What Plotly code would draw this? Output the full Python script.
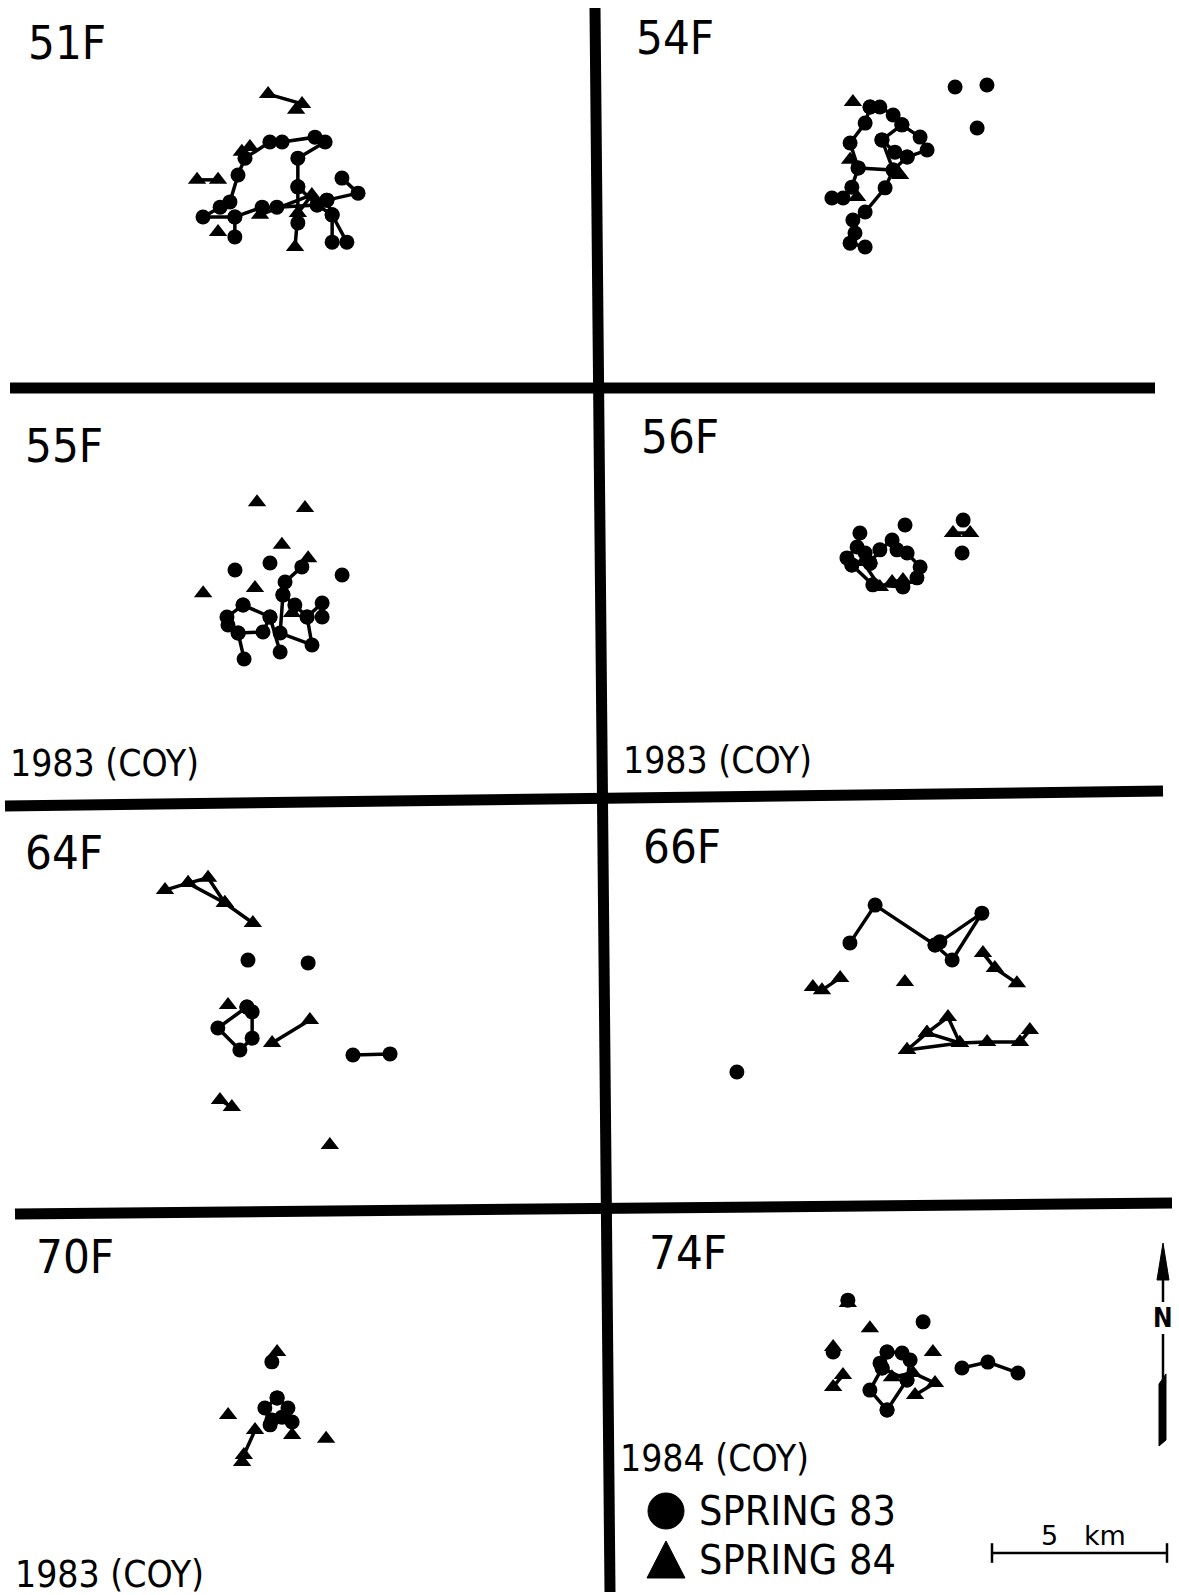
import plotly.graph_objects as go

W, H = 1179, 1595
PX_PER_KM = 35.0

# ---------------- DATA (km east / km north of a local reference point in each panel) -------------
PANELS = ["51F", "54F", "55F", "56F", "64F", "66F", "70F", "74F"]
SUBLABELS = {"55F": "1983 (COY)", "56F": "1983 (COY)", "70F": "1983 (COY)", "74F": "1984 (COY)"}
SERIES = ["SPRING 83", "SPRING 84"]
SCALE_BAR_KM = 5

F51_S83_X = [-1.29, -1.29, -2.20, -1.71, -1.43, -1.20, -1.00, -0.29, 0.06, 1.00, 1.29, 0.51, 0.51, 1.06, 1.49, 1.91, None,
             -1.29, -0.51, -0.09, 1.06, 1.34, None,
             1.77, 2.23, 1.34, 1.49, 1.49, None,
             0.51, 0.51]
F51_S83_Y = [-1.34, -0.77, -0.77, -0.49, -0.34, 0.43, 0.91, 1.37, 1.37, 1.51, 1.37, 0.91, 0.09, -0.43, -0.71, -1.49, None,
             -0.77, -0.49, -0.49, -0.43, -0.29, None,
             0.34, -0.09, -0.29, -0.71, -1.49, None,
             -0.94, 0.09]
F51_S84_X = [-0.34, 0.63, 0.46, None, -2.37, -1.77, None, -1.09, -0.86, None, -1.77, None, -0.57, 0.91, 0.51, 0.43]
F51_S84_Y = [2.74, 2.46, 2.29, None, 0.29, 0.29, None, 1.09, 1.23, None, -1.20, None, -0.71, -0.14, -0.66, -1.63]

F54_S83_X = [-0.57, -0.29, 0.09, 0.34, 0.86, 1.06, 0.49, 0.09, -0.14, -0.71, -1.06, -1.00, -1.14, -0.71, None,
             -0.57, -0.71, -1.14, -0.91, -1.09, -1.34, -1.66, None,
             0.34, -0.23, 0.14, 0.49, None,
             -0.23, 0.09, -0.91, None,
             1.86, None, 2.77, None, 2.49]
F54_S83_Y = [1.80, 1.80, 1.57, 1.29, 0.94, 0.57, 0.37, 0.00, -0.51, -1.20, -1.43, -1.80, -2.09, -2.20, None,
             1.80, 1.34, 0.77, 0.06, -0.49, -0.80, -0.80, None,
             1.29, 0.86, 0.51, 0.37, None,
             0.86, 0.00, 0.06, None,
             2.37, None, 2.43, None, 1.20]
F54_S84_X = [-1.06, None, -1.14, None, 0.29, None, -0.94]
F54_S84_Y = [1.94, None, 0.29, None, -0.14, None, -0.77]

F55_S83_X = [0.91, 0.43, 0.37, 0.29, 1.20, 1.06, 1.49, 1.49, None,
             -0.77, -1.23, -1.20, -0.91, -0.20, 0.00, -0.77, None,
             0.37, 0.71, 1.06, None,
             0.00, 0.29, None,
             -0.91, -0.74, None,
             -1.00, None, 0.00, None, 2.06]
F55_S83_Y = [0.66, 0.23, -0.14, -1.23, -1.57, -0.77, -0.37, -0.77, None,
             -0.43, -0.77, -1.00, -1.23, -1.20, -0.77, -0.43, None,
             -0.14, -0.43, -0.77, None,
             -0.77, -1.77, None,
             -1.23, -1.97, None,
             0.57, None, 0.77, None, 0.43]
F55_S84_X = [-0.37, None, 1.00, None, 0.34, None, -1.91, None, 1.09, None, -0.43, None, 0.63]
F55_S84_Y = [2.51, None, 2.34, None, 1.29, None, -0.09, None, 0.91, None, 0.06, None, -0.66]

F56_S83_X = [-0.86, -0.94, -1.23, -1.09, -0.57, -0.29, 0.06, 0.20, 0.49, 0.86, 0.77, 0.37, -0.49, -1.09, None,
             -0.71, -0.57, None, 0.43, None, 2.09, None, 2.06]
F56_S83_Y = [0.77, 0.37, 0.06, -0.14, -0.09, 0.29, 0.57, 0.29, 0.20, -0.20, -0.51, -0.77, -0.71, -0.14, None,
             0.20, -0.09, None, 1.00, None, 1.14, None, 0.20]
F56_S84_X = [-0.77, -0.29, 0.06, 0.37, None, 1.80, 2.29]
F56_S84_Y = [-0.06, -0.77, -0.63, -0.57, None, 0.77, 0.77]

F64_S83_X = [-0.63, None, 1.09, None, -0.66, -1.49, -0.86, -0.51, -0.51, -0.66, None, 2.37, 3.43]
F64_S83_Y = [1.14, None, 1.06, None, -0.20, -0.80, -1.43, -1.09, -0.34, -0.20, None, -1.57, -1.54]
F64_S84_X = [-3.00, -2.34, -1.29, -0.49, None, -2.34, -1.77, -1.29, None, -1.20, None, 1.14, 0.06, None,
             -1.43, -1.09, None, 1.71]
F64_S84_Y = [3.14, 3.34, 2.77, 2.20, None, 3.34, 3.49, 2.77, None, -0.14, None, -0.57, -1.23, None,
             -2.86, -3.06, None, -4.14]

F66_S83_X = [-1.43, -0.71, 1.00, 1.14, 2.34, 1.49, 1.00, None, -4.66]
F66_S83_Y = [1.06, 2.14, 1.00, 1.09, 1.91, 0.57, 1.00, None, -2.63]
F66_S84_X = [-2.49, -2.23, -1.71, None, 0.14, None, 2.37, 2.71, 3.34, None,
             0.20, 0.77, 1.37, 1.71, 0.77, None, 0.20, 1.71, 2.49, 3.43, 3.71]
F66_S84_Y = [-0.20, -0.29, 0.06, None, -0.06, None, 0.77, 0.34, -0.09, None,
             -2.00, -1.51, -1.06, -1.80, -1.51, None, -2.00, -1.80, -1.77, -1.77, -1.43]

F70_S83_X = [0.06, -0.29, -0.14, 0.20, 0.49, 0.37, 0.06, None, -0.09, None, -0.09]
F70_S83_Y = [0.06, -0.23, -0.71, -0.49, -0.63, -0.23, 0.06, None, -0.57, None, 1.09]
F70_S84_X = [0.06, None, -1.34, None, 0.49, None, 1.46, None, -0.57, -0.89, -0.94]
F70_S84_Y = [1.37, None, -0.43, None, -1.00, None, -1.11, None, -0.86, -1.57, -1.77]

F74_S83_X = [-0.37, -0.57, -0.51, -0.86, -0.37, None, -0.37, 0.06, 0.29, 0.20, -0.37, None, -0.51, 0.20, None,
             1.77, 2.51, 3.37, None, -1.49, None, 0.66, None, -1.91]
F74_S83_Y = [0.23, -0.09, -0.23, -0.86, -1.43, None, 0.23, 0.20, 0.00, -0.57, -1.43, None, -0.23, -0.57, None,
             -0.23, -0.06, -0.37, None, 1.71, None, 1.09, None, 0.23]
F74_S84_X = [-1.49, None, -0.86, None, 0.94, None, -1.91, None, -1.63, -1.91, None, -0.23, 0.37, 1.00, 0.43]
F74_S84_Y = [1.63, None, 0.91, None, 0.23, None, 0.37, None, -0.43, -0.77, None, -0.49, -0.37, -0.66, -1.00]

DATA = {
    "51F": (F51_S83_X, F51_S83_Y, F51_S84_X, F51_S84_Y),
    "54F": (F54_S83_X, F54_S83_Y, F54_S84_X, F54_S84_Y),
    "55F": (F55_S83_X, F55_S83_Y, F55_S84_X, F55_S84_Y),
    "56F": (F56_S83_X, F56_S83_Y, F56_S84_X, F56_S84_Y),
    "64F": (F64_S83_X, F64_S83_Y, F64_S84_X, F64_S84_Y),
    "66F": (F66_S83_X, F66_S83_Y, F66_S84_X, F66_S84_Y),
    "70F": (F70_S83_X, F70_S83_Y, F70_S84_X, F70_S84_Y),
    "74F": (F74_S83_X, F74_S83_Y, F74_S84_X, F74_S84_Y),
}

# ---------------- LAYOUT (pixels on the page) ----------------
COLS = [(0, 600), (600, 1179)]
ROWS = [(0, 395), (395, 800), (800, 1208), (1208, 1595)]
ORIGINS = {"51F": (280, 190), "54F": (890, 170), "55F": (270, 590), "56F": (890, 560),
           "64F": (270, 1000), "66F": (900, 980), "70F": (275, 1400), "74F": (900, 1360)}
LABEL_POS = {"51F": (26, 43), "54F": (634, 38), "55F": (23, 445), "56F": (639, 437),
             "64F": (23, 853), "66F": (641, 846), "70F": (34, 1256), "74F": (647, 1252)}
SUBLABEL_POS = {"55F": (8, 763), "56F": (621, 760), "70F": (13, 1574), "74F": (618, 1458)}

FONT = "DejaVu Sans Condensed, Liberation Sans Narrow, Liberation Sans, sans-serif"


def px(x):
    return x / W


def py(y):
    return 1 - y / H


fig = go.Figure()
layout_axes = {}
for i, name in enumerate(PANELS):
    col = i % 2
    row = i // 2
    L, R = COLS[col]
    T, B = ROWS[row]
    cx, cy = ORIGINS[name]
    sfx = "" if i == 0 else str(i + 1)
    layout_axes["xaxis" + sfx] = dict(domain=[px(L), px(R)], range=[(L - cx) / PX_PER_KM, (R - cx) / PX_PER_KM],
                                      visible=False, fixedrange=True, anchor="y" + sfx)
    layout_axes["yaxis" + sfx] = dict(domain=[py(B), py(T)], range=[(cy - B) / PX_PER_KM, (cy - T) / PX_PER_KM],
                                      visible=False, fixedrange=True, anchor="x" + sfx)
    x83, y83, x84, y84 = DATA[name]
    fig.add_trace(go.Scatter(x=x83, y=y83, mode="lines+markers", name=SERIES[0], showlegend=False,
                             xaxis="x" + sfx, yaxis="y" + sfx, cliponaxis=False,
                             line=dict(color="black", width=3.5),
                             marker=dict(symbol="circle", size=15, color="black")))
    fig.add_trace(go.Scatter(x=x84, y=y84, mode="lines+markers", name=SERIES[1], showlegend=False,
                             xaxis="x" + sfx, yaxis="y" + sfx, cliponaxis=False,
                             line=dict(color="black", width=3.5),
                             marker=dict(symbol="triangle-up", size=16, color="black")))

# scale bar drawn in the 74F panel's km axes
sb_x0 = (992 - ORIGINS["74F"][0]) / PX_PER_KM
sb_y0 = (ORIGINS["74F"][1] - 1553) / PX_PER_KM
fig.add_trace(go.Scatter(x=[sb_x0, sb_x0 + SCALE_BAR_KM], y=[sb_y0, sb_y0], mode="lines+markers",
                         showlegend=False, xaxis="x8", yaxis="y8", cliponaxis=False,
                         line=dict(color="black", width=2.5),
                         marker=dict(symbol="line-ns", size=14, line=dict(color="black", width=2.5))))

annotations = []
for name in PANELS:
    x, y = LABEL_POS[name]
    annotations.append(dict(text=name, x=px(x), y=py(y), xref="paper", yref="paper", xanchor="left",
                            yanchor="middle", showarrow=False, font=dict(family=FONT, size=47, color="black")))
for name, txt in SUBLABELS.items():
    x, y = SUBLABEL_POS[name]
    annotations.append(dict(text=txt, x=px(x), y=py(y), xref="paper", yref="paper", xanchor="left",
                            yanchor="middle", showarrow=False, font=dict(family=FONT, size=37, color="black")))
annotations.append(dict(text=SERIES[0], x=px(697), y=py(1511), xref="paper", yref="paper", xanchor="left",
                        yanchor="middle", showarrow=False, font=dict(family=FONT, size=41, color="black")))
annotations.append(dict(text=SERIES[1], x=px(697), y=py(1560), xref="paper", yref="paper", xanchor="left",
                        yanchor="middle", showarrow=False, font=dict(family=FONT, size=41, color="black")))
annotations.append(dict(text="5&nbsp;&nbsp;&nbsp;km", x=px(1083), y=py(1535), xref="paper", yref="paper",
                        xanchor="center", yanchor="middle", showarrow=False,
                        font=dict(family="DejaVu Sans, sans-serif", size=27, color="black")))
annotations.append(dict(text="<b>N</b>", x=px(1163), y=py(1318), xref="paper", yref="paper",
                        xanchor="center", yanchor="middle", showarrow=False,
                        font=dict(family="DejaVu Sans Condensed, DejaVu Sans, sans-serif", size=26, color="black")))


def line_shape(x0, y0, x1, y1, w):
    return dict(type="line", xref="paper", yref="paper", x0=px(x0), y0=py(y0), x1=px(x1), y1=py(y1),
                line=dict(color="black", width=w))


def path_shape(pts):
    d = "M " + " L ".join(f"{px(a):.5f},{py(b):.5f}" for a, b in pts) + " Z"
    return dict(type="path", xref="paper", yref="paper", path=d, fillcolor="black",
                line=dict(color="black", width=1))


shapes = [
    line_shape(595, 8, 610, 1592, 11),
    line_shape(10, 388, 1155, 388, 11),
    line_shape(5, 806, 1163, 791, 11),
    line_shape(15, 1214, 1172, 1203, 11),
    path_shape([(1163, 1243), (1157, 1280), (1169, 1280)]),
    line_shape(1163, 1275, 1163, 1302, 2.5),
    line_shape(1163, 1334, 1163, 1382, 2.5),
    path_shape([(1159, 1384), (1166, 1374), (1166, 1440), (1159, 1446)]),
    dict(type="circle", xref="paper", yref="paper", x0=px(648), x1=px(684), y0=py(1529), y1=py(1493),
         fillcolor="black", line=dict(color="black", width=1)),
    path_shape([(666, 1541), (647, 1578), (685, 1578)]),
]

fig.update_layout(width=W, height=H, margin=dict(l=0, r=0, t=0, b=0), autosize=False,
                  paper_bgcolor="white", plot_bgcolor="rgba(0,0,0,0)",
                  annotations=annotations, shapes=shapes, showlegend=False, **layout_axes)

fig.write_html("out.html")
